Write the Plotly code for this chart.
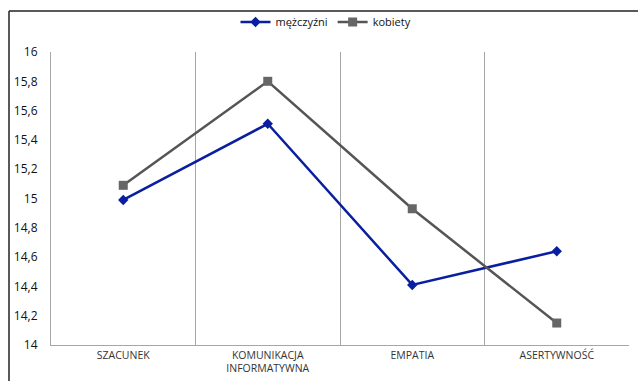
import plotly.graph_objects as go

categories = ["SZACUNEK", "KOMUNIKACJA<br>INFORMATYWNA", "EMPATIA", "ASERTYWNOŚĆ"]
mezczyzni = [14.99, 15.51, 14.41, 14.64]
kobiety = [15.09, 15.80, 14.93, 14.15]
y_ticks = [14, 14.2, 14.4, 14.6, 14.8, 15, 15.2, 15.4, 15.6, 15.8, 16]

fig = go.Figure()
fig.add_trace(go.Scatter(
    x=categories, y=mezczyzni, name="mężczyźni", mode="lines+markers",
    line=dict(color="#0a1fa0", width=2.5),
    marker=dict(symbol="diamond", size=8, color="#0a1fa0"),
))
fig.add_trace(go.Scatter(
    x=categories, y=kobiety, name="kobiety", mode="lines+markers",
    line=dict(color="#555555", width=2.5),
    marker=dict(symbol="square", size=9, color="#666666"),
))

W, H = 638, 381
l, r, t, b = 51, 9, 52, 36
pw, ph = W - l - r, H - t - b

def px(xpix):
    return (xpix - l) / pw

def py(ypix):
    return 1 - (ypix - t) / ph

frame = dict(color="#222222", width=1.5)
fig.add_shape(type="line", xref="paper", yref="paper",
              x0=px(9), x1=px(638), y0=py(11), y1=py(11), line=frame)
fig.add_shape(type="line", xref="paper", yref="paper",
              x0=px(9), x1=px(9), y0=py(11), y1=py(381), line=frame)

fig.update_layout(
    width=W, height=H,
    margin=dict(l=l, r=r, t=t, b=b, autoexpand=False),
    paper_bgcolor="white", plot_bgcolor="white",
    separators=", ",
    font=dict(family="Open Sans, Liberation Sans, sans-serif", color="#222222"),
    legend=dict(orientation="h", xref="container", yref="container",
                x=326 / W, xanchor="center", y=1 - 22 / H, yanchor="middle",
                font=dict(size=11, color="#111111"), itemwidth=30,
                bgcolor="rgba(0,0,0,0)"),
    xaxis=dict(
        type="category", range=[-0.5, 3.5], tickson="boundaries", automargin=False,
        showgrid=True, gridcolor="#a6a6a6", gridwidth=1.2,
        showline=True, linecolor="#a6a6a6", linewidth=1.2,
        ticks="", tickfont=dict(size=10.5, color="#333333"),
    ),
    yaxis=dict(
        range=[14, 16], tickvals=y_ticks, showgrid=False, automargin=False,
        showline=True, linecolor="#a6a6a6", linewidth=1.2,
        ticks="", ticklabelstandoff=10, tickfont=dict(size=12, color="#111111"),
        zeroline=False,
    ),
)

fig.write_html(
    "out.html",
    config={"displayModeBar": False},
    post_script="document.body.style.margin='0';document.body.style.overflow='hidden';",
)
